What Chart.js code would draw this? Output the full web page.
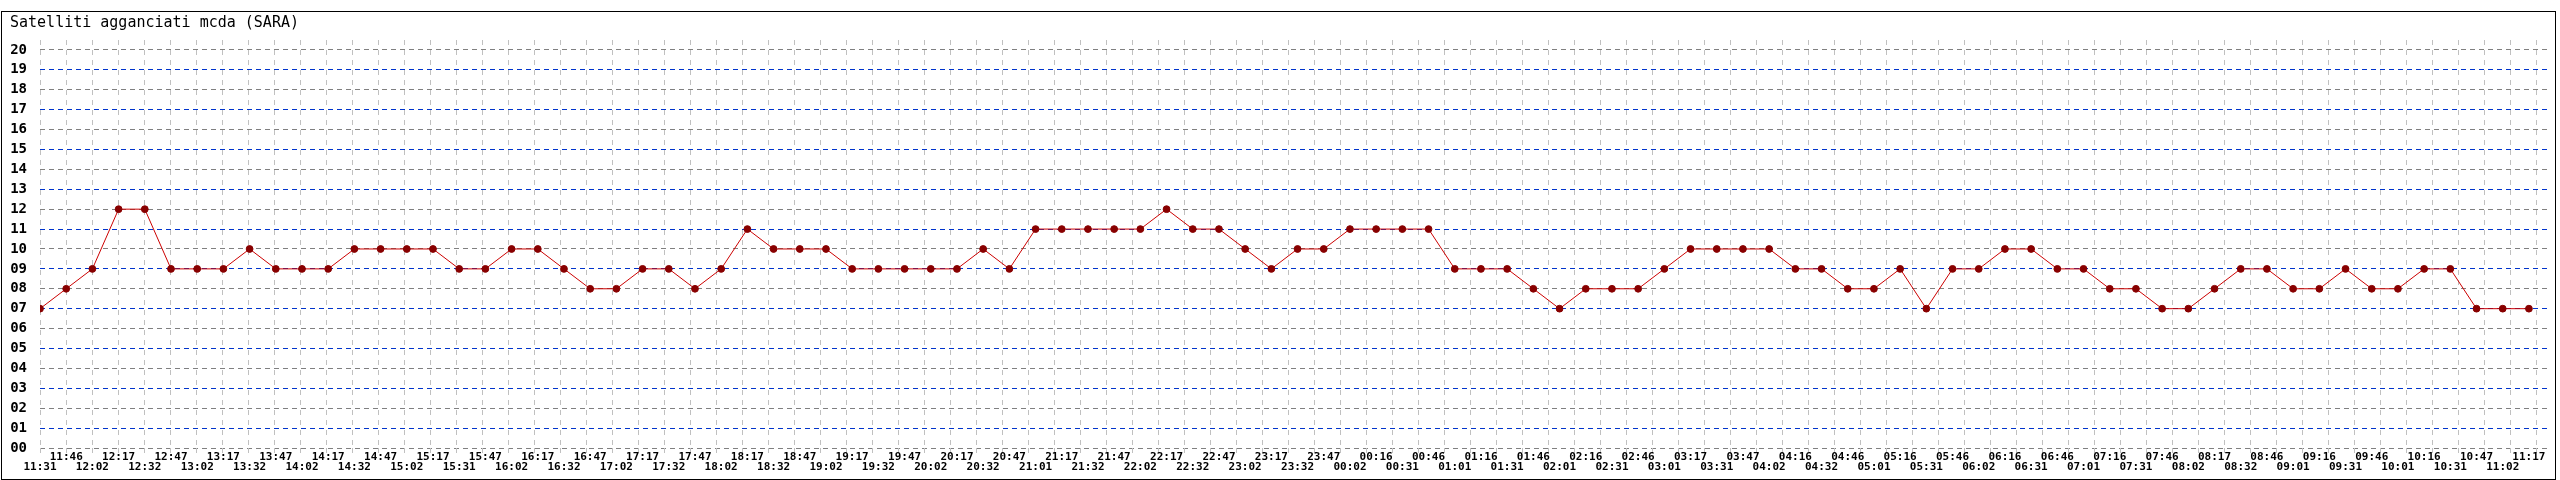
<!DOCTYPE html>
<html lang="it">
<head>
  <meta charset="UTF-8" />
  <title>Satelliti agganciati mcda (SARA)</title>
  <script src="https://cdn.jsdelivr.net/npm/chart.js"></script>
  <style>
    html, body {
      margin: 0;
      padding: 0;
      background: #ffffff;
    }

    #wrap {
      position: relative;
      width: 2560px;
      height: 480px;
      overflow: hidden;
    }

    #chart {
      position: absolute;
      left: 0;
      top: 0;
    }

    #frame {
      position: absolute;
      left: 1px;
      top: 11px;
      width: 2555px;
      height: 469px;
      box-sizing: border-box;
      border: 1px solid #000;
      pointer-events: none;
    }
  </style>
</head>
<body>
  <div id="wrap">
    <canvas id="chart" width="2560" height="480"></canvas>
    <div id="frame"></div>
  </div>

  <script>
    const TITLE = "Satelliti agganciati mcda (SARA)";

    // orari dei campioni (uno ogni ~15 minuti)
    const orari = [
      '11:31', '11:46', '12:02', '12:17', '12:32', '12:47', '13:02', '13:17',
      '13:32', '13:47', '14:02', '14:17', '14:32', '14:47', '15:02', '15:17',
      '15:31', '15:47', '16:02', '16:17', '16:32', '16:47', '17:02', '17:17',
      '17:32', '17:47', '18:02', '18:17', '18:32', '18:47', '19:02', '19:17',
      '19:32', '19:47', '20:02', '20:17', '20:32', '20:47', '21:01', '21:17',
      '21:32', '21:47', '22:02', '22:17', '22:32', '22:47', '23:02', '23:17',
      '23:32', '23:47', '00:02', '00:16', '00:31', '00:46', '01:01', '01:16',
      '01:31', '01:46', '02:01', '02:16', '02:31', '02:46', '03:01', '03:17',
      '03:31', '03:47', '04:02', '04:16', '04:32', '04:46', '05:01', '05:16',
      '05:31', '05:46', '06:02', '06:16', '06:31', '06:46', '07:01', '07:16',
      '07:31', '07:46', '08:02', '08:17', '08:32', '08:46', '09:01', '09:16',
      '09:31', '09:46', '10:01', '10:16', '10:31', '10:47', '11:02', '11:17'
    ];

    // numero di satelliti agganciati
    const satelliti = [
      7, 8, 9, 12, 12, 9, 9, 9, 10, 9, 9, 9, 10, 10, 10, 10, 9, 9, 10, 10, 9, 8, 8, 9,
      9, 8, 9, 11, 10, 10, 10, 9, 9, 9, 9, 9, 10, 9, 11, 11, 11, 11, 11, 12, 11, 11, 10, 9,
      10, 10, 11, 11, 11, 11, 9, 9, 9, 8, 7, 8, 8, 8, 9, 10, 10, 10, 10, 9, 9, 8, 8, 9,
      7, 9, 9, 10, 10, 9, 9, 8, 8, 7, 7, 8, 9, 9, 8, 8, 9, 8, 8, 9, 9, 7, 7, 7
    ];

    // etichette asse Y: 00 .. 20
    const yTicks = [0, 1, 2, 3, 4, 5, 6, 7, 8, 9, 10, 11, 12, 13, 14, 15, 16, 17, 18, 19, 20];

    const MONO = "'DejaVu Sans Mono', 'Liberation Mono', monospace";
    const GRIGIO = '#808080';
    const BLU = '#0033cc';

    const ctx = document.getElementById('chart');

    new Chart(ctx, {
      type: 'line',
      data: {
        datasets: [{
          label: TITLE,
          data: satelliti.map((v, i) => ({ x: i, y: v })),
          xAxisID: 'x',
          yAxisID: 'y',
          borderColor: '#cc0000',
          borderWidth: 1,
          pointRadius: 3.4,
          pointBackgroundColor: '#880000',
          pointBorderColor: '#880000',
          pointBorderWidth: 1,
          tension: 0
        }]
      },
      options: {
        responsive: false,
        animation: false,
        devicePixelRatio: 1,
        layout: {
          padding: { left: 10, right: 13, top: 0, bottom: 8 }
        },
        plugins: {
          legend: { display: false },
          tooltip: { enabled: false },
          title: {
            display: true,
            text: TITLE,
            align: 'start',
            color: '#000',
            font: { family: MONO, size: 15, weight: 'normal', lineHeight: 1.2 },
            padding: { top: 14, bottom: 8 }
          }
        },
        scales: {
          y: {
            type: 'linear',
            position: 'left',
            min: 0,
            max: 20.5,
            afterBuildTicks: (s) => { s.ticks = yTicks.map(v => ({ value: v })); },
            afterFit: (s) => { s.width = 30; },
            ticks: {
              padding: 13,
              color: '#000',
              font: { family: MONO, size: 14, weight: 'bold' },
              callback: (v) => String(v).padStart(2, '0')
            },
            grid: {
              drawTicks: false,
              lineWidth: 1,
              color: (c) => (c.tick && c.tick.value % 2 === 1) ? BLU : GRIGIO
            },
            border: { display: false, dash: [5, 4] }
          },
          // griglia verticale (passo fisso, non legato ai campioni)
          xg: {
            type: 'linear',
            position: 'bottom',
            weight: 0,
            min: 0,
            max: 96.42,
            afterBuildTicks: (s) => {
              s.ticks = orari.concat(['']).map((_, i) => ({ value: i }));
            },
            afterFit: (s) => { s.height = 0; },
            ticks: { display: false },
            grid: {
              color: '#c0c0c0',
              lineWidth: 1,
              drawTicks: true,
              tickLength: 8,
              tickColor: '#c0c0c0',
              tickBorderDash: [5, 5]
            },
            border: { display: false, dash: [5, 5] }
          },
          x: {
            type: 'linear',
            position: 'bottom',
            weight: 1,
            min: 0,
            max: 95.69,
            afterBuildTicks: (s) => { s.ticks = orari.map((_, i) => ({ value: i })); },
            afterFit: (s) => { s.height = 24; },
            ticks: {
              autoSkip: false,
              maxRotation: 0,
              minRotation: 0,
              padding: 4,
              color: '#000',
              font: { family: MONO, size: 11, weight: 'bold', lineHeight: '10px' },
              callback: (v) => (v % 2 === 1) ? [orari[v], ''] : ['', orari[v]]
            },
            grid: { display: false, drawTicks: false },
            border: { display: false }
          }
        }
      }
    });
  </script>
</body>
</html>
